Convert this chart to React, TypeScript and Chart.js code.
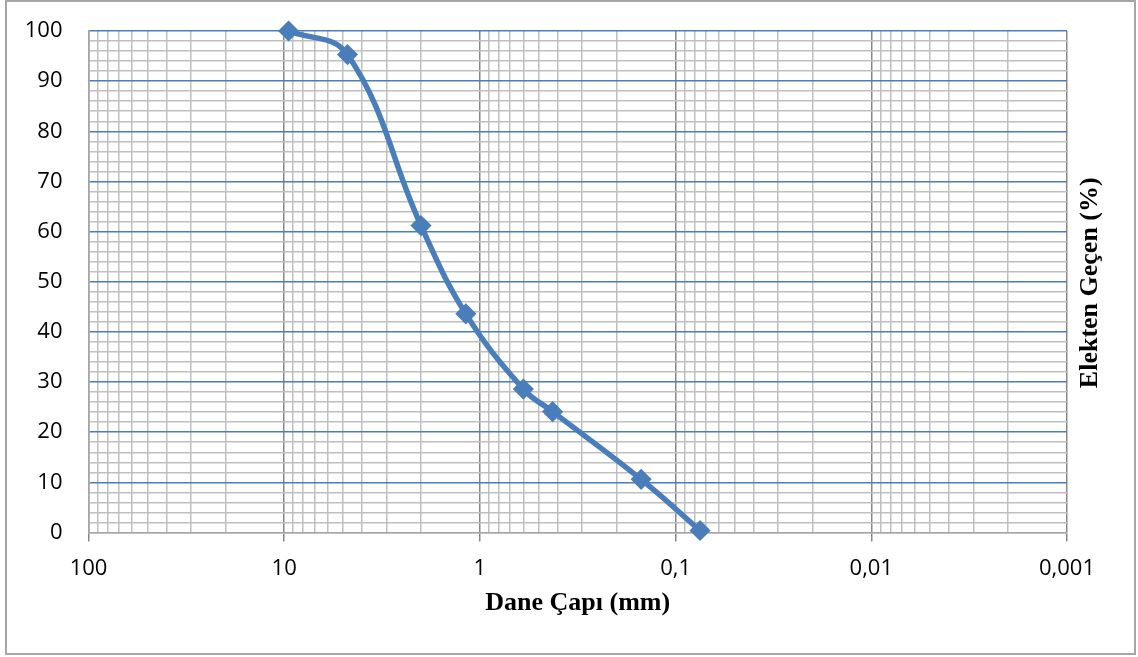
import { useEffect, useRef } from 'react';
import { Chart, registerables } from 'chart.js';

Chart.register(...registerables);

// Data: sieve sizes (mm) and percent passing
const sieveSizes = [9.5, 4.75, 2.0, 1.18, 0.6, 0.425, 0.15, 0.075];
const percentPassing = [100, 95.3, 61.2, 43.6, 28.6, 24.1, 10.6, 0.4];

// Tick labels
const decadeValues = [100, 10, 1, 0.1, 0.01, 0.001];
const decadeLabels = ['100', '10', '1', '0,1', '0,01', '0,001'];
const yTickValues = [0, 10, 20, 30, 40, 50, 60, 70, 80, 90, 100];
const yTickLabels = ['0', '10', '20', '30', '40', '50', '60', '70', '80', '90', '100'];

const xTitle = 'Dane Çapı (mm)';
const yTitle = 'Elekten Geçen (%)';

const LINE_BLUE = '#4a7ebb';
const MINOR_GRAY = '#bfbfbf';
const MAJOR_GRAY = '#878787';

const isDecade = (v: number) => decadeValues.some((d) => Math.abs(Math.log10(v) - Math.log10(d)) < 1e-6);
const decadeLabel = (v: number) => {
  const i = decadeValues.findIndex((d) => Math.abs(Math.log10(v) - Math.log10(d)) < 1e-6);
  return i >= 0 ? decadeLabels[i] : '';
};

// log grid positions: 1..9 x each decade
const xGridValues: number[] = [];
for (let i = decadeValues.length - 1; i > 0; i--) {
  const base = decadeValues[i];
  for (let k = 1; k <= 9; k++) xGridValues.push(Number((base * k).toPrecision(6)));
}
xGridValues.push(decadeValues[0]);

const yGridValues: number[] = [];
for (let v = 0; v <= 100; v += 2) yGridValues.push(v);

export default function App() {
  const canvasRef = useRef<HTMLCanvasElement | null>(null);

  useEffect(() => {
    const canvas = canvasRef.current;
    if (!canvas) return;

    const framePlugin = {
      id: 'frame',
      beforeDraw(chart: any) {
        const { ctx, width, height } = chart;
        ctx.save();
        ctx.fillStyle = '#ffffff';
        ctx.fillRect(0, 0, width, height);
        ctx.strokeStyle = '#a6a6a6';
        ctx.lineWidth = 2;
        ctx.strokeRect(6, 1, 1129, 653);
        ctx.restore();
      },
      afterDraw(chart: any) {
        const { ctx, chartArea } = chart;
        ctx.save();
        ctx.fillStyle = '#000000';
        ctx.font = 'bold 26px "Liberation Serif"';
        ctx.textAlign = 'center';
        ctx.textBaseline = 'alphabetic';
        ctx.fillText(xTitle, (chartArea.left + chartArea.right) / 2, 609.5);
        ctx.translate(1097, (chartArea.top + chartArea.bottom) / 2 + 1);
        ctx.rotate(-Math.PI / 2);
        ctx.fillText(yTitle, 0, 0);
        ctx.restore();
      },
    };

    const chart = new Chart(canvas, {
      type: 'line',
      data: {
        datasets: [
          {
            data: sieveSizes.map((s, i) => ({ x: s, y: percentPassing[i] })),
            borderColor: LINE_BLUE,
            backgroundColor: LINE_BLUE,
            borderWidth: 5.5,
            tension: 0.4,
            pointStyle: 'rectRot',
            pointRadius: 9.5,
            pointBorderWidth: 1.5,
            pointBorderColor: LINE_BLUE,
            pointBackgroundColor: LINE_BLUE,
            fill: false,
            clip: false,
          },
        ],
      },
      options: {
        animation: false,
        responsive: false,
        maintainAspectRatio: false,
        layout: { autoPadding: false, padding: { left: 24.5, right: 71, top: 31, bottom: 0 } },
        plugins: {
          legend: { display: false },
          tooltip: { enabled: false },
        },
        scales: {
          x: {
            type: 'logarithmic',
            reverse: true,
            min: 0.001,
            max: 100,
            afterBuildTicks: (scale: any) => {
              scale.ticks = xGridValues.map((v) => ({ value: v, major: isDecade(v) }));
            },
            afterFit: (scale: any) => {
              scale.height = 124.5;
              scale.paddingTop = 0;
              scale.paddingBottom = 0;
            },
            ticks: {
              autoSkip: false,
              maxRotation: 0,
              padding: 14,
              color: '#000000',
              font: { family: '"Open Sans"', size: 22 },
              callback: (value: any) => decadeLabel(Number(value)),
            },
            grid: {
              drawTicks: true,
              tickLength: 9,
              lineWidth: 1.5,
              color: (ctx: any) => (ctx.tick && isDecade(ctx.tick.value) ? MAJOR_GRAY : MINOR_GRAY),
              tickColor: (ctx: any) => (ctx.tick && isDecade(ctx.tick.value) ? MAJOR_GRAY : 'rgba(0,0,0,0)'),
              tickWidth: 1.5,
            },
            border: { display: true, color: '#a6a6a6', width: 1.5 },
          },
          y: {
            type: 'linear',
            min: 0,
            max: 100,
            afterBuildTicks: (scale: any) => {
              scale.ticks = yGridValues.map((v) => ({ value: v }));
            },
            afterFit: (scale: any) => {
              scale.width = 64;
              scale.paddingTop = 0;
              scale.paddingBottom = 0;
            },
            ticks: {
              autoSkip: false,
              padding: 26,
              color: '#000000',
              font: { family: '"Open Sans"', size: 22 },
              callback: (value: any) => {
                const i = yTickValues.indexOf(Number(value));
                return i >= 0 ? yTickLabels[i] : '';
              },
            },
            grid: {
              drawTicks: false,
              lineWidth: 1.5,
              color: (ctx: any) =>
                ctx.tick && ctx.tick.value % 10 === 0 && ctx.tick.value !== 0 ? LINE_BLUE : MINOR_GRAY,
            },
            border: { display: true, color: '#a6a6a6', width: 1.5 },
          },
        },
      },
      plugins: [framePlugin],
    });

    return () => {
      chart.destroy();
    };
  }, []);

  return (
    <div style={{ position: 'fixed', left: 0, top: 0, width: 1138, height: 657, background: '#ffffff' }}>
      <canvas ref={canvasRef} width={1138} height={657} style={{ display: 'block', width: 1138, height: 657 }} />
    </div>
  );
}
